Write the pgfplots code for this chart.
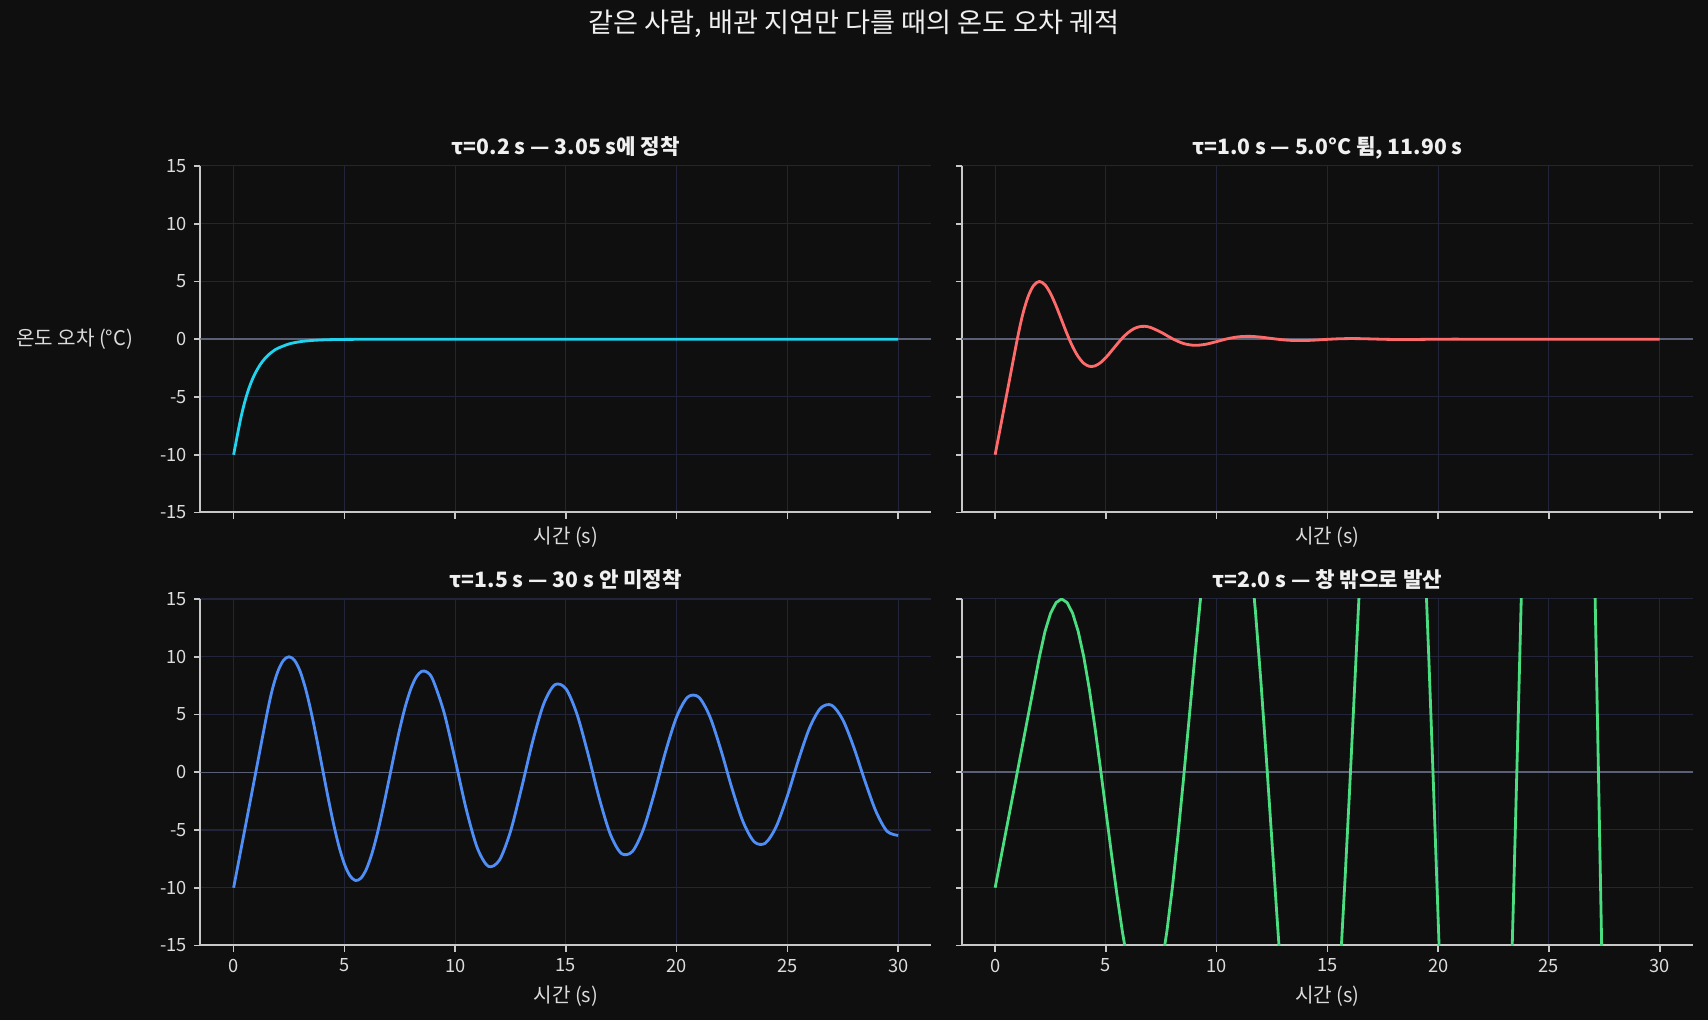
\documentclass[border=0pt]{standalone}
\usepackage{fontspec}
\setmainfont{Noto Sans CJK KR}
\usepackage{pgfplots}
\pgfplotsset{compat=1.18}
\definecolor{bg}{HTML}{0F0F0F}
\definecolor{spine}{HTML}{C8C8C8}
\definecolor{gridc}{HTML}{22243A}
\definecolor{zeroc}{HTML}{5A6075}
\definecolor{txt}{HTML}{DCDCDC}
\definecolor{ttl}{HTML}{F0F0F0}
\definecolor{cyanc}{HTML}{22D3EE}
\definecolor{redc}{HTML}{FF6B6B}
\definecolor{bluec}{HTML}{4F8EF7}
\definecolor{greenc}{HTML}{4ADE80}
\pgfplotsset{
  myax/.style={
    scale only axis, width=350.88bp, height=166.32bp,
    xmin=-1.5, xmax=31.5, ymin=-15, ymax=15,
    xtick={0,5,...,30}, ytick={-15,-10,...,15},
    axis lines*=left,
    axis line style={-, draw=spine, line width=0.96bp},
    tick align=outside, major tick length=2.9bp,
    tick style={draw=spine, line width=0.8bp},
    grid=major, major grid style={draw=gridc, line width=0.5bp},
    clip mode=individual,
    /pgf/number format/assume math mode=true,
    ticklabel style={font=\fontsize{8.8}{10.5}\selectfont, text=txt},
    title style={at={(0.5,1)}, anchor=base, yshift=-0.7bp, inner sep=0pt,
      font=\bfseries\fontsize{10.2}{12}\selectfont, text=ttl},
    xlabel={시간 (s)},
    xlabel style={at={(0.5,0)}, anchor=base, inner sep=0pt,
      font=\fontsize{9.7}{11.5}\selectfont, text=txt},
  },
  zl/.style={zeroc, line width=0.7bp, forget plot},
  cv/.style={line width=1.35bp, line join=round},
}
\begin{document}
\begin{tikzpicture}[x=1bp,y=1bp]
\fill[bg] (0,0) rectangle (819.84,489.6);
\node[text=ttl, font=\fontsize{13.1}{15}\selectfont, anchor=base, inner sep=0pt] at (409.92,474) {같은 사람, 배관 지연만 다를 때의 온도 오차 궤적};

% top left
\begin{axis}[myax, at={(96.19bp,243.6bp)}, anchor=south west,
  xticklabels={}, xlabel style={yshift=-14.9bp},
  title={τ=0.2 s — 3.05 s에 정착},
  extra description/.code={\node[font=\fontsize{9.7}{11.5}\selectfont, text=txt, anchor=center, xshift=-60.4bp] at (0,0.5) {온도 오차 (°C)};}]
\addplot[zl] coordinates {(-1.5,0) (31.5,0)};
\addplot[cv, cyanc, smooth] coordinates {
(0,-10) (0.1,-9) (0.2,-8) (0.3,-7.05) (0.4,-6.2) (0.5,-5.448) (0.6,-4.787)
(0.7,-4.205) (0.8,-3.694) (0.9,-3.245) (1.0,-2.850) (1.2,-2.199) (1.4,-1.697)
(1.6,-1.309) (1.8,-1.010) (2.0,-0.779) (2.5,-0.408) (3.0,-0.213) (3.5,-0.112)
(4.0,-0.058) (4.5,-0.030) (5.0,-0.016) (6.0,-0.004) (7.0,-0.001) (8,0) (10,0)
(15,0) (20,0) (25,0) (30,0)};
\end{axis}

% top right
\begin{axis}[myax, at={(461.71bp,243.6bp)}, anchor=south west,
  xticklabels={}, yticklabels={}, xlabel style={yshift=-14.9bp},
  title={τ=1.0 s — 5.0°C 튐, 11.90 s}]
\addplot[zl] coordinates {(-1.5,0) (31.5,0)};
\addplot[cv, redc, smooth] coordinates {
(0,-10) (0.5,-5) (1,0) (1.25,2.188) (1.5,3.75) (1.75,4.688) (2,5) (2.25,4.714)
(2.5,3.958) (2.75,2.891) (3,1.667) (3.25,0.441) (3.5,-0.651) (3.75,-1.512)
(4,-2.083) (4.25,-2.345) (4.5,-2.315) (4.75,-2.039) (5,-1.583) (5.25,-1.023)
(5.5,-0.435) (5.75,0.114) (6,0.569) (6.25,0.896) (6.5,1.078) (6.75,1.117)
(7,1.029) (7.5,0.596) (8,0.050) (8.5,-0.369) (9,-0.529) (9.5,-0.440)
(10,-0.204) (10.5,0.046) (11,0.211) (11.5,0.248) (12,0.179) (12.5,0.059)
(13,-0.051) (13.5,-0.112) (14,-0.112) (14.5,-0.069) (15,-0.011) (15.5,0.036)
(16,0.056) (16.5,0.049) (17,0.024) (17.5,-0.003) (18,-0.021) (18.5,-0.027)
(19,-0.020) (19.5,-0.008) (20,0.004) (21,0.006) (22,0) (24,0) (27,0) (30,0)};
\end{axis}

% bottom left
\begin{axis}[myax, at={(96.19bp,35.76bp)}, anchor=south west,
  xlabel style={yshift=-27.6bp},
  title={τ=1.5 s — 30 s 안 미정착}]
\addplot[zl] coordinates {(-1.5,0) (31.5,0)};
\addplot[cv, bluec, smooth] coordinates {
(0,-10) (0.5,-5) (1,0) (1.5,5) (1.75,7.188) (2,8.75) (2.25,9.688) (2.5,10)
(2.75,9.688) (3,8.75) (3.25,7.214) (3.5,5.208) (3.75,2.891) (4,0.417)
(4.25,-2.057) (4.5,-4.375) (4.75,-6.382) (5,-7.943) (5.25,-8.960) (5.5,-9.375)
(5.75,-9.168) (6,-8.359) (6.25,-7.006) (6.5,-5.205) (6.75,-3.080) (7,-0.776)
(7.25,1.555) (7.5,3.758) (7.75,5.689) (8,7.224) (8.25,8.265) (8.5,8.749)
(8.75,8.650) (9,7.982) (9.5,5.168) (10,1.085) (10.5,-3.196) (11,-6.552)
(11.5,-8.148) (12,-7.605) (12.5,-5.110) (13,-1.352) (13.5,2.672) (14,5.926)
(14.5,7.575) (15,7.232) (15.5,5.029) (16,1.575) (16.5,-2.210) (17,-5.344)
(17.5,-7.029) (18,-6.863) (18.5,-4.928) (19,-1.762) (19.5,1.790) (20,4.803)
(20.5,6.511) (21,6.501) (21.5,4.812) (22,1.917) (22.5,-1.411) (23,-4.300)
(23.5,-6.019) (24,-6.146) (24.5,-4.682) (25,-2.039) (25.5,1.070) (26,3.837)
(26.5,5.553) (27,5.800) (27.5,4.543) (28,2.135) (28.5,-0.764) (29,-3.407)
(29.5,-5.114) (30,-5.468)};
\end{axis}

% bottom right
\begin{axis}[myax, at={(461.71bp,35.76bp)}, anchor=south west,
  yticklabels={}, xlabel style={yshift=-27.6bp},
  title={τ=2.0 s — 창 밖으로 발산}]
\addplot[zl] coordinates {(-1.5,0) (31.5,0)};
\addplot[cv, greenc] coordinates {
(0,-10) (0.5,-5) (1,0) (1.5,5) (2,10) (2.25,12.1875) (2.5,13.75) (2.75,14.6875)
(3,15) (3.25,14.6875) (3.5,13.75) (3.75,12.1875) (4,10) (4.25,7.214) (4.5,3.958)
(4.75,0.391) (5,-3.333) (5.25,-7.057) (5.5,-10.625) (5.75,-13.880) (6,-16.667)
(6.5,-20.234) (7,-20.417) (7.5,-16.901) (7.75,-13.830) (8,-10) (8.25,-5.549)
(8.5,-0.648) (8.75,4.497) (9,9.667) (9.25,14.627) (9.5,19.148) (10,26.0)
(10.5,28.737) (11,26.486) (11.5,19.209) (11.75,13.941) (12,7.778) (12.25,1.010)
(12.5,-6.101) (12.75,-13.253) (13,-20.123) (14.5,-39.05)
(15.4,-22.42) (15.6,-16.09) (15.8,-9.08) (16.0,-1.58) (16.2,6.25) (16.4,14.20)
(16.6,21.98) (18,54.78)
(19.37,19.87) (19.47,15.15) (19.57,10.26) (19.67,5.07) (19.77,-0.24)
(19.87,-5.65) (19.97,-11.10) (20.07,-16.65) (20.17,-22.20) (21.7,-75.49)
(23.2,-24.88) (23.3,-17.99) (23.4,-10.95) (23.5,-3.71) (23.6,3.70) (23.7,11.21)
(23.8,18.74) (23.9,26.37) (25.4,103.8)
(26.93,30.07) (27.03,20.51) (27.13,10.64) (27.23,0.51) (27.33,-9.79)
(27.43,-20.21) (29,-139.8) (30,-119.5)};
\end{axis}
\end{tikzpicture}
\end{document}
